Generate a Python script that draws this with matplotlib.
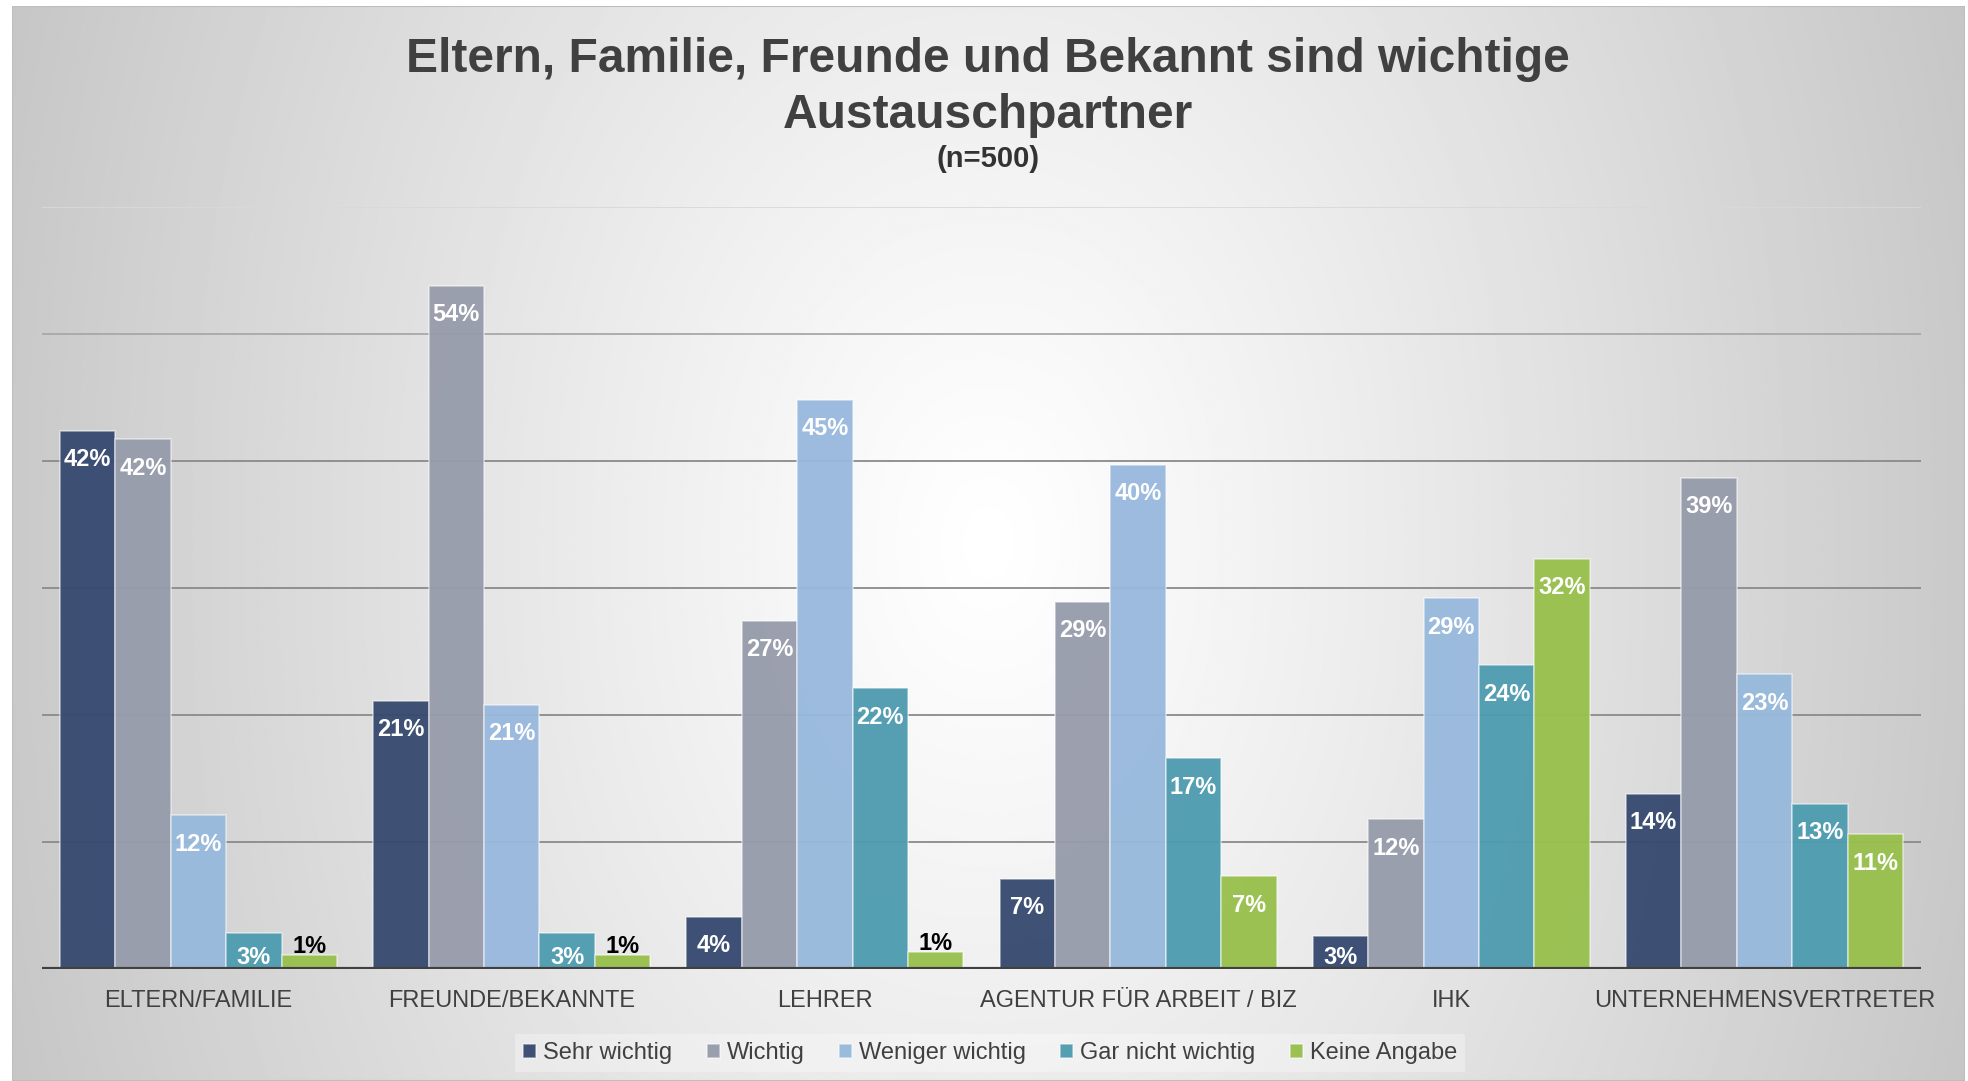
import numpy as np
import matplotlib
matplotlib.use("Agg")
import matplotlib.pyplot as plt
from matplotlib.patches import Rectangle

plt.rcParams['font.family'] = ['Liberation Sans', 'DejaVu Sans']

# ---------------- data ----------------
categories = ["ELTERN/FAMILIE", "FREUNDE/BEKANNTE", "LEHRER",
              "AGENTUR FÜR ARBEIT / BIZ", "IHK", "UNTERNEHMENSVERTRETER"]
series_names = ["Sehr wichtig", "Wichtig", "Weniger wichtig",
                "Gar nicht wichtig", "Keine Angabe"]
sehr_wichtig = [42.4, 21.1, 4.1, 7.1, 2.6, 13.8]
wichtig = [41.7, 53.8, 27.4, 28.9, 11.8, 38.7]
weniger_wichtig = [12.1, 20.8, 44.8, 39.7, 29.2, 23.2]
gar_nicht_wichtig = [2.8, 2.8, 22.1, 16.6, 23.9, 13.0]
keine_angabe = [1.1, 1.1, 1.3, 7.3, 32.3, 10.6]
series_values = [sehr_wichtig, wichtig, weniger_wichtig, gar_nicht_wichtig, keine_angabe]
colors = ["#374a70", "#979cab", "#98b9dd", "#4f9cb0", "#98c04d"]

title_line1 = "Eltern, Familie, Freunde und Bekannt sind wichtige"
title_line2 = "Austauschpartner"
subtitle = "(n=500)"

W, H = 1968, 1081
fig = plt.figure(figsize=(W / 100, H / 100), dpi=100)
fig.patch.set_facecolor("white")

# ---------------- gradient background ----------------
bx0, bx1, by_top = 12, 1965, 6
bg = fig.add_axes([bx0 / W, 0, (bx1 - bx0) / W, (H - by_top) / H], zorder=-10)
gx = np.linspace(-1, 1, 800)
gy = np.linspace(-1, 1, 450)
GX, GY = np.meshgrid(gx, gy)
drop = np.sqrt((0.21 * np.abs(GX) ** 1.1) ** 2 + (0.075 * np.abs(GY) ** 1.1) ** 2)
val = np.clip(1 - drop, 0, 1)
bg.imshow(val, cmap="gray", vmin=0, vmax=1, aspect="auto", extent=(0, 1, 0, 1),
          interpolation="bilinear")
bg.add_patch(Rectangle((0, 0), 1, 1, transform=bg.transAxes, fill=False,
                       edgecolor="#bdbdbd", lw=1.5))
bg.set_xlim(0, 1)
bg.set_ylim(0, 1)
bg.axis("off")

# ---------------- main axes ----------------
ax_l, ax_r, ax_b, ax_t = 42, 1921, 969, 207
ax = fig.add_axes([ax_l / W, (H - ax_b) / H, (ax_r - ax_l) / W, (ax_b - ax_t) / H])
ax.patch.set_alpha(0)
ax.set_xlim(-0.5, len(categories) - 0.5)
ax.set_ylim(0, 60)

grid_cols = {10: "#8a8a8a", 20: "#8a8a8a", 30: "#8a8a8a", 40: "#8a8a8a",
             50: "#a8a8a8", 60: "#d9d9d9"}
for yv, c in grid_cols.items():
    ax.axhline(yv, color=c, lw=1.3, zorder=0)

# points per data unit (for keeping labels inside short bars)
pt_per_unit = (ax_b - ax_t) / 60 * 72 / 100

n = len(series_names)
bw = 0.177
x = np.arange(len(categories))
handles = []
for i, (name, vals, col) in enumerate(zip(series_names, series_values, colors)):
    xpos = x + (i - (n - 1) / 2) * bw
    rgba = matplotlib.colors.to_rgba(col, 0.96)
    bars = ax.bar(xpos, vals, width=bw, color=rgba, edgecolor=(1, 1, 1, 0.5),
                  linewidth=1.2, label=name, zorder=2)
    handles.append(bars)
    for xp, v in zip(xpos, vals):
        lab = f"{int(round(v))}%"
        if v < 2:
            ax.annotate(lab, (xp, v), xytext=(0, 1.5), textcoords="offset points",
                        ha="center", va="baseline", fontsize=17, fontweight="bold",
                        color="black", zorder=6)
        else:
            off = min(25.5, v * pt_per_unit - 3.5)
            ax.annotate(lab, (xp, v), xytext=(0, -off), textcoords="offset points",
                        ha="center", va="baseline", fontsize=17, fontweight="bold",
                        color="white", zorder=6)

ax.axhline(0, color="#404040", lw=3, zorder=4)
for s in ax.spines.values():
    s.set_visible(False)
ax.set_yticks([])
ax.set_xticks(x)
ax.set_xticklabels(categories, fontsize=17, color="#404040")
ax.tick_params(axis="x", length=0, pad=15)

# ---------------- titles ----------------
cx = 988 / W
fig.text(cx, 1 - 60 / H, title_line1, ha="center", va="center", fontsize=34.5,
         fontweight="bold", color="#404040")
fig.text(cx, 1 - 115 / H, title_line2, ha="center", va="center", fontsize=34.5,
         fontweight="bold", color="#404040")
fig.text(cx, 1 - 159 / H, subtitle, ha="center", va="center", fontsize=21,
         fontweight="bold", color="#333333")

# ---------------- legend ----------------
leg = fig.legend(handles=handles, labels=series_names, loc="center",
                 bbox_to_anchor=(990 / W, 1 - 1053 / H), ncol=5, fontsize=17,
                 frameon=True, framealpha=0.3, facecolor="white",
                 edgecolor="none", handlelength=0.55, handleheight=0.55,
                 handletextpad=0.3, columnspacing=1.45, borderpad=0.35,
                 borderaxespad=0, fancybox=False)
for t in leg.get_texts():
    t.set_color("#404040")

fig.savefig("out.png", dpi=100, facecolor="white")
